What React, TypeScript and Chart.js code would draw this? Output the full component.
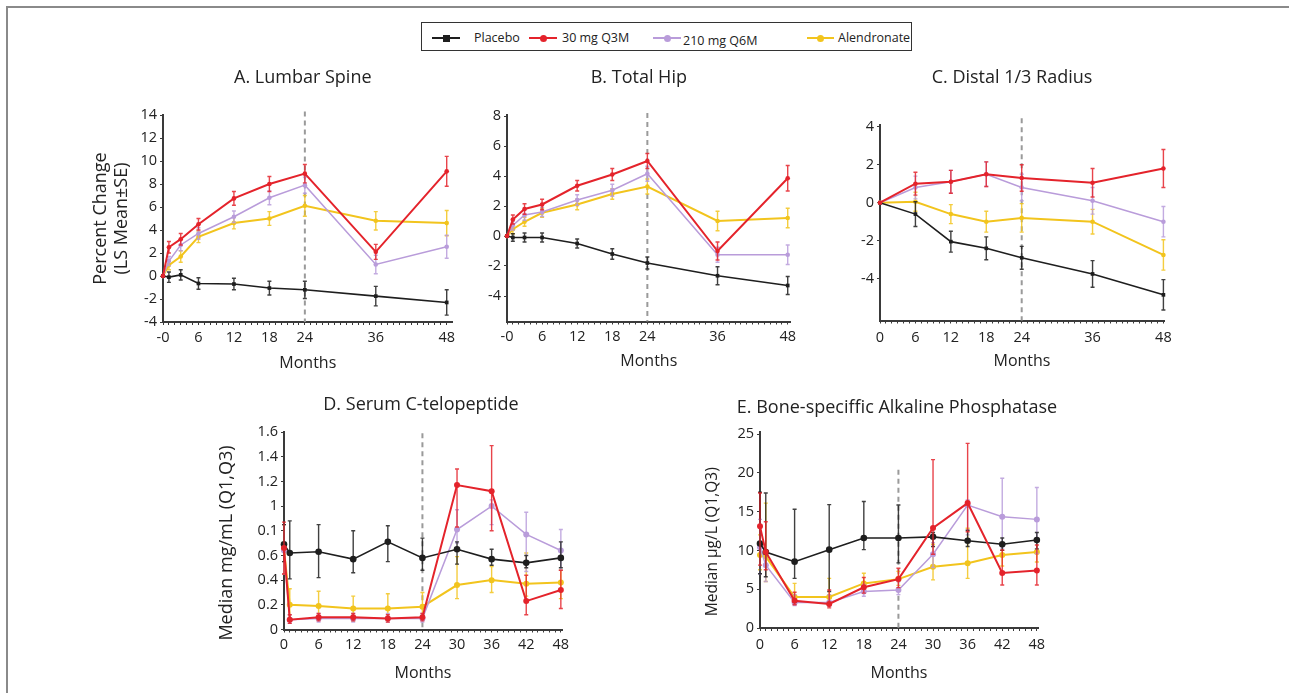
import React, { useEffect, useRef } from "react";
import { Chart, registerables } from "chart.js";

Chart.register(...registerables);

const FONT = "'Open Sans', 'Noto Sans', 'DejaVu Sans', sans-serif";
const TEXT = "#222";
const AXIS = "#3a3a3a";
Chart.defaults.font.family = FONT;

// ---------- series ----------
const seriesNames = ["Placebo", "30 mg Q3M", "210 mg Q6M", "Alendronate"];
const seriesColors = ["#1e1e1e", "#e4232b", "#b99cda", "#f2c41d"];
const errColors = ["rgba(30,30,30,0.85)", "rgba(228,35,43,0.85)", "rgba(185,156,218,0.85)", "rgba(242,196,29,0.85)"];
const lineWidths = [1.6, 2, 1.5, 2];
const drawOrder = [1, 0, 2, 3];

// ---------- months ----------
const monthsAB = [0, 1, 3, 6, 12, 18, 24, 36, 48];
const monthsC = [0, 6, 12, 18, 24, 36, 48];
const monthsDE = [0, 1, 6, 12, 18, 24, 30, 36, 42, 48];

// ---------- tick labels ----------
const xTicksABC = [0, 6, 12, 18, 24, 36, 48];
const xLabelsAB = ["-0", "6", "12", "18", "24", "36", "48"];
const xLabelsC = ["0", "6", "12", "18", "24", "36", "48"];
const xTicksDE = [0, 6, 12, 18, 24, 30, 36, 42, 48];
const xLabelsDE = ["0", "6", "12", "18", "24", "30", "36", "42", "48"];

const yTicksA = [-4, -2, 0, 2, 4, 6, 8, 10, 12, 14];
const yLabelsA = ["-4", "-2", "0", "2", "4", "6", "8", "10", "12", "14"];
const yTicksB = [-4, -2, 0, 2, 4, 6, 8];
const yLabelsB = ["-4", "-2", "0", "2", "4", "6", "8"];
const yTicksC = [-4, -2, 0, 2, 4];
const yLabelsC = ["-4", "-2", "0", "2", "4"];
const yTicksD = [0, 0.2, 0.4, 0.6, 0.8, 1, 1.2, 1.4, 1.6];
const yLabelsD = ["0", "0.2", "0.4", "0.6", "0.1", "1", "1.2", "1.4", "1.6"];
const yTicksE = [0, 5, 10, 15, 20, 25];
const yLabelsE = ["0", "5", "10", "15", "20", "25"];

// ---------- A. Lumbar Spine (LS mean, SE) ----------
const placeboA = [0, -0.1, 0.1, -0.65, -0.7, -1.05, -1.2, -1.75, -2.3];
const placeboSeA = [0, 0.45, 0.45, 0.5, 0.5, 0.6, 0.75, 0.85, 1.1];
const q3mA = [0, 2.5, 3.2, 4.5, 6.75, 8.0, 8.9, 2.1, 9.1];
const q3mSeA = [0, 0.5, 0.5, 0.5, 0.6, 0.65, 0.8, 0.65, 1.3];
const q6mA = [0, 1.3, 2.7, 3.7, 5.15, 6.8, 7.9, 1.0, 2.55];
const q6mSeA = [0, 0.4, 0.5, 0.5, 0.5, 0.6, 0.7, 0.8, 1.0];
const alnA = [0, 0.95, 1.7, 3.4, 4.6, 5.0, 6.1, 4.8, 4.6];
const alnSeA = [0, 0.4, 0.5, 0.5, 0.5, 0.6, 0.9, 0.8, 1.1];

// ---------- B. Total Hip ----------
const placeboB = [0, -0.1, -0.1, -0.1, -0.5, -1.2, -1.8, -2.65, -3.3];
const placeboSeB = [0, 0.25, 0.3, 0.3, 0.3, 0.35, 0.4, 0.6, 0.6];
const q3mB = [0, 1.1, 1.8, 2.1, 3.35, 4.1, 5.0, -1.0, 3.85];
const q3mSeB = [0, 0.3, 0.35, 0.35, 0.35, 0.4, 0.5, 0.6, 0.85];
const q6mB = [0, 0.7, 1.4, 1.6, 2.4, 3.05, 4.15, -1.25, -1.25];
const q6mSeB = [0, 0.3, 0.35, 0.3, 0.35, 0.4, 0.5, 0.5, 0.65];
const alnB = [0, 0.45, 0.95, 1.55, 2.1, 2.8, 3.3, 1.0, 1.2];
const alnSeB = [0, 0.3, 0.3, 0.3, 0.35, 0.35, 0.5, 0.65, 0.65];

// ---------- C. Distal 1/3 Radius ----------
const placeboC = [0, -0.6, -2.05, -2.4, -2.9, -3.75, -4.85];
const placeboSeC = [0, 0.65, 0.55, 0.6, 0.6, 0.7, 0.8];
const q3mC = [0, 1.0, 1.1, 1.5, 1.3, 1.05, 1.8];
const q3mSeC = [0, 0.6, 0.6, 0.65, 0.7, 0.75, 1.0];
const q6mC = [0, 0.8, 1.1, 1.5, 0.8, 0.1, -1.0];
const q6mSeC = [0, 0.6, 0.6, 0.65, 0.7, 0.7, 0.8];
const alnC = [0, 0.05, -0.6, -1.0, -0.8, -1.0, -2.75];
const alnSeC = [0, 0.5, 0.5, 0.55, 0.75, 0.65, 0.8];

// ---------- D. Serum C-telopeptide (median, Q1, Q3) ----------
const placeboD = [0.69, 0.62, 0.63, 0.57, 0.71, 0.58, 0.65, 0.57, 0.54, 0.58];
const placeboQ1D = [0.55, 0.41, 0.42, 0.46, 0.55, 0.48, 0.53, 0.52, 0.5, 0.5];
const placeboQ3D = [0.85, 0.88, 0.85, 0.8, 0.84, 0.74, 0.71, 0.65, 0.6, 0.71];
const q3mD = [0.66, 0.08, 0.1, 0.1, 0.09, 0.1, 1.17, 1.12, 0.23, 0.32];
const q3mQ1D = [0.45, 0.05, 0.07, 0.07, 0.06, 0.07, 0.83, 0.8, 0.12, 0.17];
const q3mQ3D = [0.87, 0.12, 0.13, 0.13, 0.12, 0.13, 1.3, 1.49, 0.44, 0.48];
const q6mD = [0.64, 0.08, 0.09, 0.09, 0.09, 0.09, 0.81, 1.0, 0.77, 0.64];
const q6mQ1D = [0.45, 0.05, 0.06, 0.06, 0.06, 0.06, 0.7, 0.85, 0.47, 0.48];
const q6mQ3D = [0.85, 0.12, 0.13, 0.13, 0.13, 0.13, 0.97, 1.05, 0.95, 0.81];
const alnD = [0.65, 0.2, 0.19, 0.17, 0.17, 0.185, 0.36, 0.4, 0.37, 0.38];
const alnQ1D = [0.45, 0.08, 0.08, 0.07, 0.07, 0.08, 0.25, 0.3, 0.27, 0.25];
const alnQ3D = [0.85, 0.33, 0.31, 0.27, 0.29, 0.3, 0.59, 0.51, 0.62, 0.48];

// ---------- E. Bone-specific Alkaline Phosphatase ----------
const placeboE = [10.9, 9.8, 8.55, 10.1, 11.6, 11.6, 11.75, 11.25, 10.8, 11.35];
const placeboQ1E = [7.0, 6.6, 6.4, 4.7, 10.1, 8.4, 10.5, 10.5, 10.0, 10.2];
const placeboQ3E = [17.5, 17.4, 15.3, 15.9, 16.3, 15.85, 12.3, 12.6, 11.6, 12.3];
const q3mE = [13.1, 9.8, 3.5, 3.1, 5.25, 6.3, 12.9, 16.1, 7.1, 7.4];
const q3mQ1E = [8.1, 7.5, 3.0, 2.6, 4.5, 5.2, 9.5, 12.4, 5.55, 5.55];
const q3mQ3E = [17.4, 13.7, 4.6, 4.9, 6.5, 7.7, 21.7, 23.8, 10.05, 10.7];
const q6mE = [10.4, 8.1, 3.3, 3.3, 4.7, 4.9, 9.5, 15.85, 14.35, 14.0];
const q6mQ1E = [7.0, 6.0, 2.9, 2.8, 4.1, 4.3, 7.8, 12.0, 10.3, 9.6];
const q6mQ3E = [14.0, 10.0, 4.3, 4.3, 5.6, 6.0, 11.0, 16.5, 19.3, 18.1];
const alnE = [9.4, 9.2, 4.0, 4.0, 5.75, 6.3, 7.9, 8.35, 9.4, 9.8];
const alnQ1E = [7.5, 6.0, 3.3, 3.4, 5.0, 5.5, 6.2, 6.4, 8.0, 8.5];
const alnQ3E = [12.0, 16.1, 5.75, 6.4, 7.05, 7.3, 10.8, 12.85, 11.0, 11.5];

// ---------- helpers ----------
type SeriesData = { values: number[]; low: number[]; high: number[] };
const withSe = (values: number[], se: number[]): SeriesData => ({
  values,
  low: values.map((v, i) => v - se[i]),
  high: values.map((v, i) => v + se[i]),
});
const withQ = (values: number[], q1: number[], q3: number[]): SeriesData => ({ values, low: q1, high: q3 });

const range = (a: number, b: number) => {
  const r: number[] = [];
  for (let v = a; v <= b; v++) r.push(v);
  return r;
};

interface PanelCfg {
  key: string;
  title: string;
  titleSize: number;
  titleDx: number;
  titleY: number;
  canvas: { left: number; top: number; width: number; height: number };
  padTop: number;
  padRight: number;
  yWidth: number;
  xHeight: number;
  months: number[];
  series: SeriesData[];
  xMin: number;
  xMax: number;
  xTicks: number[];
  xLabels: string[];
  xTickPad: number;
  yMin: number;
  yMax: number;
  yTicks: number[];
  yLabels: string[];
  tickSize: number;
  monthsPadBottom: number;
  axisYTitle?: string[];
  axisYTitlePad?: number;
  plotYTitle?: { text: string; x: number; y: number; size: number };
  vlineTop: number;
  pointRadius: number;
  placeboStyle: string;
}

const panels: PanelCfg[] = [
  {
    key: "A",
    title: "A. Lumbar Spine",
    titleSize: 18,
    titleDx: -5,
    titleY: 18,
    canvas: { left: 80, top: 60, width: 379, height: 316 },
    padTop: 55,
    padRight: 0,
    yWidth: 83,
    xHeight: 54,
    months: monthsAB,
    series: [withSe(placeboA, placeboSeA), withSe(q3mA, q3mSeA), withSe(q6mA, q6mSeA), withSe(alnA, alnSeA)],
    xMin: 0,
    xMax: 49,
    xTicks: xTicksABC,
    xLabels: xLabelsAB,
    xTickPad: 4,
    yMin: -4,
    yMax: 14,
    yTicks: yTicksA,
    yLabels: yLabelsA,
    tickSize: 14.5,
    monthsPadBottom: 3.4,
    axisYTitle: ["Percent Change", "(LS Mean±SE)"],
    axisYTitlePad: 10.6,
    vlineTop: 14.3,
    pointRadius: 2.3,
    placeboStyle: "rect",
  },
  {
    key: "B",
    title: "B. Total Hip",
    titleSize: 18,
    titleDx: -10,
    titleY: 18,
    canvas: { left: 467, top: 60, width: 333, height: 316 },
    padTop: 54.5,
    padRight: 0,
    yWidth: 40,
    xHeight: 54.5,
    months: monthsAB,
    series: [withSe(placeboB, placeboSeB), withSe(q3mB, q3mSeB), withSe(q6mB, q6mSeB), withSe(alnB, alnSeB)],
    xMin: 0,
    xMax: 48.5,
    xTicks: xTicksABC,
    xLabels: xLabelsAB,
    xTickPad: 4,
    yMin: -5.7,
    yMax: 8.1,
    yTicks: yTicksB,
    yLabels: yLabelsB,
    tickSize: 14.5,
    monthsPadBottom: 4.5,
    vlineTop: 8.2,
    pointRadius: 2.3,
    placeboStyle: "rect",
  },
  {
    key: "C",
    title: "C. Distal 1/3 Radius",
    titleSize: 18,
    titleDx: -10,
    titleY: 18,
    canvas: { left: 840, top: 60, width: 343.5, height: 316 },
    padTop: 64.8,
    padRight: 20,
    yWidth: 40,
    xHeight: 55.5,
    months: monthsC,
    series: [withSe(placeboC, placeboSeC), withSe(q3mC, q3mSeC), withSe(q6mC, q6mSeC), withSe(alnC, alnSeC)],
    xMin: 0,
    xMax: 48.1,
    xTicks: xTicksABC,
    xLabels: xLabelsC,
    xTickPad: 5.5,
    yMin: -6.2,
    yMax: 4.1,
    yTicks: yTicksC,
    yLabels: yLabelsC,
    tickSize: 14.5,
    monthsPadBottom: 4.5,
    vlineTop: 4.45,
    pointRadius: 2.3,
    placeboStyle: "rect",
  },
  {
    key: "D",
    title: "D. Serum C-telopeptide",
    titleSize: 18,
    titleDx: -2,
    titleY: 20,
    canvas: { left: 205, top: 385, width: 387, height: 301 },
    padTop: 47,
    padRight: 30,
    yWidth: 79,
    xHeight: 56.5,
    months: monthsDE,
    series: [
      withQ(placeboD, placeboQ1D, placeboQ3D),
      withQ(q3mD, q3mQ1D, q3mQ3D),
      withQ(q6mD, q6mQ1D, q6mQ3D),
      withQ(alnD, alnQ1D, alnQ3D),
    ],
    xMin: 0,
    xMax: 48.2,
    xTicks: xTicksDE,
    xLabels: xLabelsDE,
    xTickPad: 3.8,
    yMin: 0,
    yMax: 1.6,
    yTicks: yTicksD,
    yLabels: yLabelsD,
    tickSize: 14.5,
    monthsPadBottom: 3.4,
    plotYTitle: { text: "Median mg/mL (Q1,Q3)", x: 21.7, y: 158, size: 18 },
    vlineTop: 1.59,
    pointRadius: 3,
    placeboStyle: "circle",
  },
  {
    key: "E",
    title: "E. Bone-speciffic Alkaline Phosphatase",
    titleSize: 18,
    titleDx: -2,
    titleY: 23,
    canvas: { left: 700, top: 385, width: 417.6, height: 301 },
    padTop: 46.7,
    padRight: 80,
    yWidth: 60,
    xHeight: 58,
    months: monthsDE,
    series: [
      withQ(placeboE, placeboQ1E, placeboQ3E),
      withQ(q3mE, q3mQ1E, q3mQ3E),
      withQ(q6mE, q6mQ1E, q6mQ3E),
      withQ(alnE, alnQ1E, alnQ3E),
    ],
    xMin: 0,
    xMax: 48.2,
    xTicks: xTicksDE,
    xLabels: xLabelsDE,
    xTickPad: 5.3,
    yMin: 0,
    yMax: 25.3,
    yTicks: yTicksE,
    yLabels: yLabelsE,
    tickSize: 14.5,
    monthsPadBottom: 3.4,
    plotYTitle: { text: "Median μg/L (Q1,Q3)", x: 13, y: 156.7, size: 15.5 },
    vlineTop: 20.4,
    pointRadius: 3,
    placeboStyle: "circle",
  },
];

// ---------- plugin: dashed line, error bars, panel title ----------
const panelDeco = {
  id: "panelDeco",
  beforeDatasetsDraw(chart: any, _args: any, opts: any) {
    const { ctx, chartArea, scales } = chart;
    const x = scales.x.getPixelForValue(24);
    const yTop = scales.y.getPixelForValue(opts.vlineTop);
    ctx.save();
    ctx.setLineDash([5, 4]);
    ctx.strokeStyle = "#9a9a9a";
    ctx.lineWidth = 2;
    ctx.beginPath();
    ctx.moveTo(x, yTop);
    ctx.lineTo(x, chartArea.bottom);
    ctx.stroke();
    ctx.restore();
  },
  afterDatasetDraw(chart: any, args: any) {
    const ds = chart.data.datasets[args.index];
    if (!ds.errLow) return;
    const { ctx } = chart;
    const y = chart.scales.y;
    ctx.save();
    ctx.strokeStyle = ds.errColor;
    ctx.lineWidth = 1.4;
    args.meta.data.forEach((pt: any, i: number) => {
      const lo = ds.errLow[i];
      const hi = ds.errHigh[i];
      if (lo === hi) return;
      const x = pt.x;
      const y1 = y.getPixelForValue(lo);
      const y2 = y.getPixelForValue(hi);
      ctx.beginPath();
      ctx.moveTo(x, y1);
      ctx.lineTo(x, y2);
      ctx.moveTo(x - 2, y1);
      ctx.lineTo(x + 2, y1);
      ctx.moveTo(x - 2, y2);
      ctx.lineTo(x + 2, y2);
      ctx.stroke();
    });
    ctx.restore();
  },
  afterDraw(chart: any, _args: any, opts: any) {
    const { ctx, chartArea } = chart;
    ctx.save();
    ctx.fillStyle = TEXT;
    ctx.textAlign = "center";
    ctx.textBaseline = "middle";
    ctx.font = `${opts.titleSize}px ${FONT}`;
    ctx.fillText(opts.title, (chartArea.left + chartArea.right) / 2 + opts.titleDx, opts.titleY);
    if (opts.yTitleText) {
      ctx.translate(opts.yTitleX, opts.yTitleY);
      ctx.rotate(-Math.PI / 2);
      ctx.font = `${opts.yTitleSize}px ${FONT}`;
      ctx.fillText(opts.yTitleText, 0, 0);
    }
    ctx.restore();
  },
};

function buildConfig(p: PanelCfg): any {
  const datasets = p.series.map((s, k) => ({
    label: seriesNames[k],
    data: p.months.map((m, i) => ({ x: m, y: s.values[i] })),
    borderColor: seriesColors[k],
    backgroundColor: seriesColors[k],
    borderWidth: lineWidths[k],
    pointRadius: k === 0 ? p.pointRadius + 0.3 : p.pointRadius,
    pointStyle: k === 0 ? p.placeboStyle : "circle",
    pointBorderWidth: 0,
    tension: 0,
    clip: false,
    order: drawOrder[k],
    errLow: s.low,
    errHigh: s.high,
    errColor: errColors[k],
  }));
  const tickFont = { size: p.tickSize, family: FONT };
  return {
    type: "line",
    data: { datasets },
    plugins: [panelDeco],
    options: {
      animation: false,
      responsive: false,
      events: [],
      layout: { padding: { top: p.padTop, left: 0, right: p.padRight, bottom: 0 }, autoPadding: false },
      plugins: {
        legend: { display: false },
        tooltip: { enabled: false },
        title: { display: false },
        panelDeco: {
          title: p.title,
          titleSize: p.titleSize,
          titleDx: p.titleDx,
          titleY: p.titleY,
          vlineTop: p.vlineTop,
          yTitleText: p.plotYTitle ? p.plotYTitle.text : "",
          yTitleX: p.plotYTitle ? p.plotYTitle.x : 0,
          yTitleY: p.plotYTitle ? p.plotYTitle.y : 0,
          yTitleSize: p.plotYTitle ? p.plotYTitle.size : 0,
        },
      },
      scales: {
        x: {
          type: "linear",
          min: p.xMin,
          max: p.xMax,
          afterBuildTicks: (s: any) => {
            s.ticks = range(0, 48).map((v) => ({ value: v }));
          },
          afterFit: (s: any) => {
            s.height = p.xHeight;
          },
          ticks: {
            autoSkip: false,
            maxRotation: 0,
            minRotation: 0,
            padding: p.xTickPad,
            font: tickFont,
            color: TEXT,
            callback: (v: number) => {
              const k = p.xTicks.indexOf(v);
              return k >= 0 ? p.xLabels[k] : "";
            },
          },
          grid: { display: true, drawOnChartArea: false, drawTicks: true, tickLength: 3, color: AXIS, lineWidth: 1 },
          border: { display: true, color: AXIS, width: 2 },
          title: {
            display: true,
            text: "Months",
            color: TEXT,
            font: { size: 16, family: FONT, lineHeight: 1.2 },
            padding: { top: 0, bottom: p.monthsPadBottom },
          },
        },
        y: {
          type: "linear",
          min: p.yMin,
          max: p.yMax,
          afterBuildTicks: (s: any) => {
            s.ticks = p.yTicks.map((v) => ({ value: v }));
          },
          afterFit: (s: any) => {
            s.width = p.yWidth;
          },
          ticks: {
            autoSkip: false,
            padding: 3,
            font: tickFont,
            color: TEXT,
            callback: (_v: number, i: number) => p.yLabels[i],
          },
          grid: { display: true, drawOnChartArea: false, drawTicks: true, tickLength: 3, color: AXIS, lineWidth: 1 },
          border: { display: true, color: AXIS, width: 2 },
          title: p.axisYTitle
            ? {
                display: true,
                text: p.axisYTitle,
                color: TEXT,
                font: { size: 18, family: FONT, lineHeight: 1.15 },
                padding: { top: p.axisYTitlePad, bottom: 0 },
              }
            : { display: false },
        },
      },
    },
  };
}

function Panel({ cfg }: { cfg: PanelCfg }) {
  const ref = useRef<HTMLCanvasElement>(null);
  useEffect(() => {
    const chart = new Chart(ref.current as HTMLCanvasElement, buildConfig(cfg));
    return () => chart.destroy();
  }, [cfg]);
  const { left, top, width, height } = cfg.canvas;
  return (
    <canvas
      ref={ref}
      width={Math.round(width)}
      height={Math.round(height)}
      style={{ position: "absolute", left, top, width: Math.round(width), height: Math.round(height) }}
    />
  );
}

// ---------- legend ----------
const legendMarkers = [
  { lineLeft: 432, lineWidth: 28, textLeft: 474, textTop: 0 },
  { lineLeft: 529, lineWidth: 28, textLeft: 562, textTop: 0 },
  { lineLeft: 653, lineWidth: 28, textLeft: 683, textTop: 3 },
  { lineLeft: 807, lineWidth: 27, textLeft: 838, textTop: 0 },
];

function Legend() {
  return (
    <div style={{ position: "absolute", left: 0, top: 0 }}>
      <div
        style={{
          position: "absolute",
          left: 421,
          top: 22,
          width: 489,
          height: 27,
          border: "1.5px solid #333",
          background: "#fff",
        }}
      />
      {seriesNames.map((name, k) => {
        const m = legendMarkers[k];
        return (
          <React.Fragment key={name}>
            <div
              style={{
                position: "absolute",
                left: m.lineLeft,
                top: 37,
                width: m.lineWidth,
                height: 2,
                background: seriesColors[k],
              }}
            />
            <div
              style={{
                position: "absolute",
                left: m.lineLeft + m.lineWidth / 2 - 3.5,
                top: 34.5,
                width: 7,
                height: 7,
                borderRadius: k === 0 ? 0 : 4,
                background: seriesColors[k],
              }}
            />
            <div
              style={{
                position: "absolute",
                left: m.textLeft,
                top: 29 + m.textTop,
                fontFamily: FONT,
                fontSize: 12.5,
                lineHeight: "18px",
                color: TEXT,
                whiteSpace: "nowrap",
              }}
            >
              {name}
            </div>
          </React.Fragment>
        );
      })}
    </div>
  );
}

export default function App() {
  return (
    <div
      style={{
        position: "absolute",
        left: 0,
        top: 0,
        width: 1289,
        height: 693,
        overflow: "hidden",
        background: "#fff",
      }}
    >
      <div style={{ position: "absolute", left: 6, top: 6, width: 1300, height: 2, background: "#8a8a8a" }} />
      <div style={{ position: "absolute", left: 6, top: 6, width: 2, height: 700, background: "#8a8a8a" }} />
      <Legend />
      {panels.map((p) => (
        <Panel key={p.key} cfg={p} />
      ))}
    </div>
  );
}
